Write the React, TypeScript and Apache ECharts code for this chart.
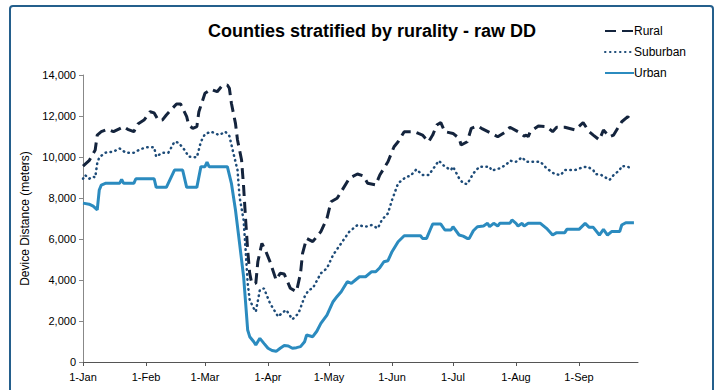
import React, { useEffect, useRef } from 'react';
import * as echarts from 'echarts';

const monthNames = ['Jan', 'Feb', 'Mar', 'Apr', 'May', 'Jun', 'Jul', 'Aug', 'Sep', 'Oct', 'Nov', 'Dec'];

// Daily categories, 1 Jan 2020 .. 30 Sep 2020
const categories: string[] = (() => {
  const out: string[] = [];
  const start = Date.UTC(2020, 0, 1);
  for (let i = 0; i < 274; i++) {
    const d = new Date(start + i * 86400000);
    const mm = String(d.getUTCMonth() + 1).padStart(2, '0');
    const dd = String(d.getUTCDate()).padStart(2, '0');
    out.push(`2020-${mm}-${dd}`);
  }
  return out;
})();

const yTickValues = [0, 2000, 4000, 6000, 8000, 10000, 12000, 14000];

// [day since 1 Jan, device distance in meters]
const rural: [number, number][] = [
  [0, 9560], [3, 9820], [6, 10340], [7, 11070], [9, 11235], [12, 11350], [15, 11235], [20, 11480],
  [22, 11350], [25, 11235], [27, 11610], [30, 11800], [33, 12210], [35, 12150], [37, 11800], [39, 11800],
  [41, 12050], [44, 12375], [46, 12585], [48, 12585], [51, 11967], [52, 11560], [54, 11400], [56, 11480],
  [57, 12210], [60, 13107], [63, 13300], [66, 13186], [68, 13430], [71, 13510], [72, 13350], [73, 12620],
  [75, 11640], [76, 10830], [78, 9853], [79, 8550], [80, 6927], [81, 5463], [82, 4326], [83, 3840],
  [85, 3840], [86, 4890], [88, 5790], [90, 5380], [92, 4890], [95, 4000], [97, 4326], [99, 4290],
  [102, 3595], [105, 3430], [107, 4326], [108, 5300], [110, 6030], [113, 5870], [117, 6360], [120, 7010],
  [122, 7820], [125, 7985], [128, 8470], [131, 8960], [135, 9170], [138, 9070], [140, 8715], [144, 8635],
  [146, 9120], [150, 9770], [153, 10500], [155, 10745], [158, 11235], [163, 11235], [165, 11150], [167, 11070],
  [170, 10745], [172, 11070], [174, 11560], [176, 11675], [178, 11235], [182, 11150], [185, 10910], [186, 10585],
  [189, 10745], [191, 11400], [194, 11515], [196, 11400], [201, 11150], [204, 10990], [208, 11235], [210, 11450],
  [214, 11235], [217, 11020], [218, 11070], [219, 10990], [220, 11235], [224, 11510], [228, 11480], [231, 11235],
  [233, 11450], [237, 11450], [242, 11320], [246, 11675], [249, 11235], [251, 11070], [254, 10830], [256, 11320],
  [259, 10990], [261, 11070], [264, 11560], [265, 11720], [268, 11967], [270, 11720],
];

const suburban: [number, number][] = [
  [0, 8940], [1, 9120], [3, 8940], [5, 9040], [6, 9000], [7, 9690], [8, 9985], [11, 10210],
  [15, 10260], [18, 10420], [21, 10210], [25, 10210], [28, 10370], [31, 10470], [35, 10470], [36, 10015],
  [39, 10210], [42, 10210], [45, 10745], [47, 10700], [50, 10340], [52, 10015], [56, 9985], [58, 10745],
  [60, 11120], [63, 11235], [67, 11070], [70, 11235], [72, 11025], [74, 10180], [76, 9365], [77, 8063],
  [79, 6927], [80, 5463], [81, 3840], [82, 3025], [84, 2620], [85, 2455], [87, 3512], [89, 3590],
  [92, 2860], [96, 2210], [98, 2400], [100, 2537], [103, 2080], [106, 2375], [109, 3185], [111, 3512],
  [113, 3590], [117, 4326], [120, 4570], [123, 5220], [127, 5790], [131, 6360], [135, 6680], [139, 6600],
  [142, 6680], [145, 6520], [147, 6930], [150, 7250], [152, 7900], [155, 8715], [159, 9040], [161, 9070],
  [164, 9400], [167, 9120], [170, 9120], [173, 9530], [175, 9820], [178, 9530], [181, 9365], [182, 9530],
  [185, 8960], [187, 8715], [189, 8680], [192, 9200], [195, 9530], [200, 9530], [201, 9335], [205, 9450],
  [208, 9610], [210, 9820], [213, 9770], [216, 9985], [218, 9770], [225, 9770], [228, 9450], [232, 9170],
  [235, 9120], [237, 9365], [242, 9365], [246, 9500], [248, 9530], [251, 9365], [252, 9170], [255, 9120],
  [259, 8880], [261, 9120], [264, 9365], [265, 9560], [268, 9530], [270, 9400],
];

const urban: [number, number][] = [
  [0, 7750], [3, 7700], [5, 7600], [7, 7420], [8, 8390], [9, 8630], [11, 8715], [18, 8715],
  [19, 8910], [20, 8715], [25, 8715], [26, 8940], [35, 8940], [36, 8520], [41, 8520], [45, 9365],
  [49, 9365], [51, 8520], [56, 8520], [58, 9530], [60, 9530], [61, 9756], [62, 9530], [71, 9530],
  [73, 8715], [75, 7415], [77, 5800], [79, 4160], [80, 2870], [81, 1560], [82, 1235], [84, 990],
  [85, 830], [87, 1155], [89, 910], [91, 668], [93, 560], [95, 520], [97, 668], [99, 800],
  [101, 780], [103, 668], [105, 700], [107, 748], [109, 990], [110, 1317], [113, 1235], [115, 1500],
  [117, 1886], [120, 2290], [123, 2940], [125, 3200], [127, 3430], [130, 3917], [132, 3835], [134, 4000],
  [136, 4160], [139, 4160], [142, 4405], [144, 4400], [146, 4600], [148, 4890], [150, 4940], [152, 5380],
  [155, 5868], [158, 6160], [166, 6160], [167, 6030], [169, 6030], [171, 6500], [172, 6730], [176, 6730],
  [178, 6440], [181, 6440], [182, 6600], [185, 6195], [187, 6140], [189, 6030], [190, 6030], [192, 6405],
  [194, 6600], [197, 6630], [199, 6765], [200, 6600], [202, 6765], [204, 6630], [205, 6765], [210, 6765],
  [211, 6930], [213, 6765], [214, 6630], [216, 6765], [217, 6630], [219, 6765], [225, 6765], [228, 6520],
  [231, 6195], [233, 6310], [237, 6310], [238, 6470], [244, 6470], [247, 6765], [249, 6570], [251, 6570],
  [254, 6195], [256, 6470], [258, 6195], [260, 6360], [264, 6360], [265, 6680], [267, 6795], [271, 6795],
];

const FONT = "'Liberation Sans', Arial, sans-serif";

const isMonthStart = (_i: number, v: string) => v.slice(8) === '01';

export default function App() {
  const ref = useRef<HTMLDivElement>(null);
  useEffect(() => {
    if (!ref.current) return;
    const chart = echarts.init(ref.current, undefined, { renderer: 'svg' });
    chart.setOption({
      animation: false,
      backgroundColor: '#ffffff',
      textStyle: { fontFamily: FONT },
      title: {
        text: 'Counties stratified by rurality - raw DD',
        left: 367,
        top: 17,
        textAlign: 'center',
        textStyle: { fontFamily: FONT, fontSize: 18, fontWeight: 'bold', color: '#000' },
      },
      legend: {
        orient: 'vertical',
        left: 599,
        top: 20,
        itemWidth: 29,
        itemHeight: 12,
        itemGap: 9,
        itemStyle: { opacity: 0 },
        textStyle: { fontFamily: FONT, fontSize: 12, color: '#000', padding: [0, 0, 0, -5] },
        data: ['Rural', 'Suburban', 'Urban'],
      },
      graphic: [
        {
          type: 'rect',
          shape: { x: 10, y: 6, width: 703, height: 420, r: 3 },
          style: { fill: 'none', stroke: '#245f8c', lineWidth: 2 },
          silent: true,
        },
      ],
      grid: { left: 83, right: 80, top: 75, bottom: 28, outerBoundsMode: 'none' },
      xAxis: {
        type: 'category',
        data: categories,
        boundaryGap: false,
        axisLine: { show: true, lineStyle: { color: '#555', width: 1 } },
        axisTick: { show: true, interval: isMonthStart, length: 4, lineStyle: { color: '#555' } },
        axisLabel: {
          interval: isMonthStart,
          fontFamily: FONT,
          fontSize: 11,
          color: '#000',
          margin: 9,
          formatter: (v: string) => `${parseInt(v.slice(8), 10)}-${monthNames[parseInt(v.slice(5, 7), 10) - 1]}`,
        },
        splitLine: { show: false },
      },
      yAxis: {
        type: 'value',
        min: yTickValues[0],
        max: yTickValues[yTickValues.length - 1],
        interval: 2000,
        name: 'Device Distance (meters)',
        nameLocation: 'middle',
        nameGap: 45,
        nameTextStyle: { fontFamily: FONT, fontSize: 12, color: '#000' },
        axisLine: { show: true, lineStyle: { color: '#888', width: 1 } },
        axisTick: { show: true, length: 4, lineStyle: { color: '#888' } },
        axisLabel: {
          fontFamily: FONT,
          fontSize: 11,
          color: '#000',
          margin: 7,
          formatter: (v: number) => v.toLocaleString('en-US'),
        },
        splitLine: { show: false },
      },
      series: [
        {
          name: 'Rural',
          type: 'line',
          data: rural,
          symbol: 'none',
          itemStyle: { color: '#14243d' },
          lineStyle: { color: '#14243d', width: 3, type: [11, 6] },
        },
        {
          name: 'Suburban',
          type: 'line',
          data: suburban,
          symbol: 'none',
          itemStyle: { color: '#1d4b78' },
          lineStyle: { color: '#1d4b78', width: 2.5, type: [0.5, 4.5], cap: 'round' },
        },
        {
          name: 'Urban',
          type: 'line',
          data: urban,
          symbol: 'none',
          itemStyle: { color: '#2b8bbf' },
          lineStyle: { color: '#2b8bbf', width: 3 },
        },
      ],
    });
    return () => chart.dispose();
  }, []);
  return <div ref={ref} style={{ position: 'fixed', left: 0, top: 0, width: 718, height: 390 }} />;
}
